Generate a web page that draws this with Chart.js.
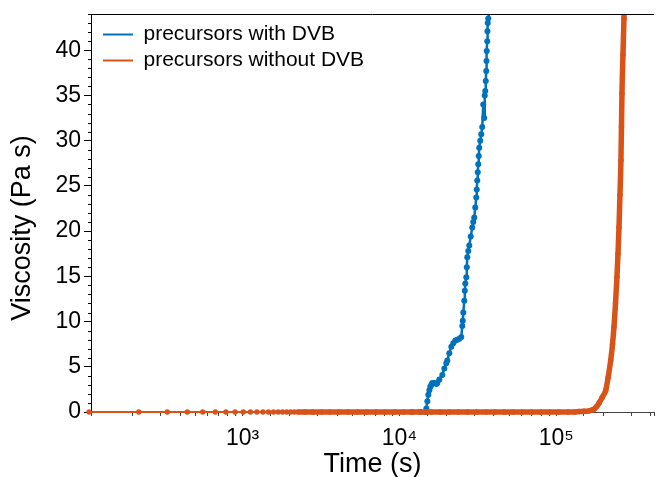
<!DOCTYPE html>
<html>
<head>
<meta charset="utf-8">
<script src="https://cdn.jsdelivr.net/npm/chart.js@4.4.0/dist/chart.umd.min.js"></script>
<style>
  html, body { margin: 0; padding: 0; background: #fff; }
  #wrap { width: 657px; height: 477px; }
</style>
</head>
<body>
<div id="wrap"><canvas id="myChart" width="657" height="477"></canvas></div>
<script>
// time (s) and viscosity (Pa s)
var blueTime = [12000, 13500, 14635, 14850, 15070, 15290, 15520, 15750, 15980, 16220, 16700, 17190,
    17450, 17970, 18770, 19330, 19900, 20200, 20800, 21420, 22050, 22710, 23390, 24090, 24800, 25170,
    25350, 25540, 25920, 26110, 26300, 26690, 26890, 27080, 27480, 27880, 28500, 29130, 29560, 30000,
    30440, 30900, 31120, 31350, 31580, 31810, 32050, 32280, 32760, 33250, 33740, 34230, 34740, 35000,
    35260, 35520, 35780, 35900, 36040, 36310, 36400, 36580, 36850, 37120]
var blueVisc = [0, 0, 0, 0.4, 1.2, 1.9, 2.4, 2.8, 3.0, 3.2, 3.2, 3.1,
    3.2, 3.6, 4.1, 4.8, 5.4, 5.7, 6.5, 7.2, 7.6, 7.9, 8.0, 8.1, 8.3, 9.5,
    10.1, 11.0, 12.3, 13.4, 14.2, 14.9, 16.0, 17.1, 17.8, 18.4, 19.4, 20.4, 21.0, 21.5,
    22.6, 23.7, 24.6, 25.6, 26.5, 27.4, 28.3, 29.2, 30.0, 30.7, 31.5, 34.0, 32.5, 35.0,
    35.5, 36.6, 37.7, 38.8, 39.9, 41.0, 42.1, 43.0, 43.5, 45]

var orangeTime = [105, 218, 331, 444, 557, 670, 783, 896, 1009, 1122, 1235, 1348, 1461, 1574, 1687,
    1800, 1913, 2026, 2139, 2252, 2500, 2800, 3200, 3600, 4100, 4700, 5400, 6200, 7100, 8100, 9300,
    10600, 12100, 13900, 15900, 18200, 20800, 23800, 27200, 31100, 35600, 40700, 46500, 53200, 60800,
    69500, 79500, 90900, 104000, 119000, 131000, 139800, 150000, 161000, 168000, 174000, 181000,
    187600, 196000, 206800, 214000, 222400, 228400, 233400, 238700, 243800, 247600, 251200, 254800,
    258500, 260500, 262400, 266300, 270200, 274000]
var orangeVisc = [0, 0, 0, 0, 0, 0, 0, 0, 0, 0, 0, 0, 0, 0, 0,
    0, 0, 0, 0, 0, 0, 0, 0, 0, 0, 0, 0, 0, 0, 0, 0,
    0, 0, 0, 0, 0, 0, 0, 0, 0, 0, 0, 0, 0, 0,
    0, 0, 0, 0, 0, 0, 0.05, 0.08, 0.12, 0.2, 0.3, 0.6,
    1.0, 1.6, 2.4, 3.8, 5.7, 7.5, 9.4, 12, 14.9, 17.5, 20.4, 24,
    27.8, 31.5, 35.2, 39.5, 43.5, 48]

var seriesNames = ["precursors with DVB", "precursors without DVB"]
var seriesColors = ["#0072BD", "#D95319"]
var yTickStep = 5

function toPoints(xs, ys) {
    var pts = []
    for (var i = 0; i < xs.length; i++) pts.push({ x: xs[i], y: ys[i] })
    return pts
}

Chart.defaults.font.family = "'Liberation Sans', Arial, sans-serif"
Chart.defaults.color = "#000"

// top border line, short minor ticks on the y axis, legend placed inside the plot
var framePlugin = {
    id: "frame",
    afterLayout: function (chart) {
        var area = chart.chartArea
        chart.legend.left = area.left + 7
        chart.legend.top = area.top + 5
    },
    afterDraw: function (chart) {
        var ctx = chart.ctx
        var area = chart.chartArea
        var ys = chart.scales.y
        ctx.save()
        ctx.strokeStyle = "#000"
        ctx.lineWidth = 1
        ctx.beginPath()
        ctx.moveTo(area.left, area.top + 0.5)
        ctx.lineTo(area.right, area.top + 0.5)
        for (var v = Math.ceil(ys.min); v <= ys.max; v++) {
            if (v % yTickStep === 0) continue
            var py = Math.round(ys.getPixelForValue(v)) + 0.5
            ctx.moveTo(area.left - 3, py)
            ctx.lineTo(area.left, py)
        }
        ctx.stroke()
        ctx.restore()
    }
}

new Chart("myChart", {
    type: "line",
    data: {
        datasets: [{
            label: seriesNames[0],
            data: toPoints(blueTime, blueVisc),
            borderColor: seriesColors[0],
            backgroundColor: seriesColors[0],
            borderWidth: 2.5,
            pointRadius: 3,
            pointHoverRadius: 3,
            pointBorderWidth: 0,
            order: 2,
            clip: { left: 6, top: 0, right: 6, bottom: 6 }
        }, {
            label: seriesNames[1],
            data: toPoints(orangeTime, orangeVisc),
            borderColor: seriesColors[1],
            backgroundColor: seriesColors[1],
            borderWidth: 2,
            pointRadius: 2.7,
            pointHoverRadius: 2.7,
            pointBorderWidth: 0,
            cubicInterpolationMode: "monotone",
            order: 1,
            clip: { left: 6, top: 0, right: 6, bottom: 6 },
            segment: {
                borderWidth: function (ctx) { return ctx.p0.parsed.x >= 2200 ? 5.5 : 2 }
            }
        }]
    },
    options: {
        responsive: false,
        animation: false,
        layout: { padding: { left: 0, top: 14, right: 2, bottom: 0 } },
        plugins: {
            tooltip: { enabled: false },
            legend: {
                position: "chartArea",
                align: "start",
                labels: {
                    boxWidth: 30,
                    boxHeight: 2,
                    padding: 5,
                    font: { size: 21 },
                    color: "#000",
                    generateLabels: function (chart) {
                        return chart.data.datasets.map(function (ds, i) {
                            return { text: ds.label, fillStyle: ds.borderColor, strokeStyle: ds.borderColor, lineWidth: 0, datasetIndex: i }
                        })
                    }
                }
            }
        },
        scales: {
            x: {
                type: "logarithmic",
                min: 108,
                max: 420000,
                border: { display: true, color: "#444", width: 1 },
                grid: { display: true, drawOnChartArea: false, drawTicks: true, tickLength: 4, tickColor: "#444" },
                ticks: {
                    autoSkip: false,
                    maxRotation: 0,
                    padding: 9,
                    font: { size: 23 },
                    color: "#000",
                    callback: function (v) {
                        var e = Math.log10(v)
                        if (Math.abs(e - Math.round(e)) > 1e-9) return ""
                        var sup = { 2: "²", 3: "³", 4: "⁴", 5: "⁵" }
                        return "10" + sup[Math.round(e)]
                    }
                },
                title: { display: true, text: "Time (s)", font: { size: 27 }, color: "#000", padding: { top: 0, bottom: -4 } },
                afterFit: function (s) { s.height = 65; s.paddingLeft = 0; s.paddingRight = 0 }
            },
            y: {
                min: 0,
                max: 44,
                border: { display: true, color: "#000", width: 1 },
                grid: {
                    display: true, drawOnChartArea: false, drawTicks: true, tickLength: 7,
                    tickColor: function (ctx) { return ctx.tick && ctx.tick.value % yTickStep === 0 ? "#000" : "rgba(0,0,0,0)" }
                },
                ticks: {
                    stepSize: 1,
                    autoSkip: false,
                    padding: 3,
                    font: { size: 23 },
                    color: "#000",
                    callback: function (v) { return v % yTickStep === 0 ? v : "" }
                },
                title: { display: true, text: "Viscosity (Pa s)    ", font: { size: 27 }, color: "#000", padding: { top: 6, bottom: 0 } },
                afterFit: function (s) { s.width = 91; s.paddingTop = 0; s.paddingBottom = 0 }
            }
        }
    },
    plugins: [framePlugin]
});
</script>
</body>
</html>
